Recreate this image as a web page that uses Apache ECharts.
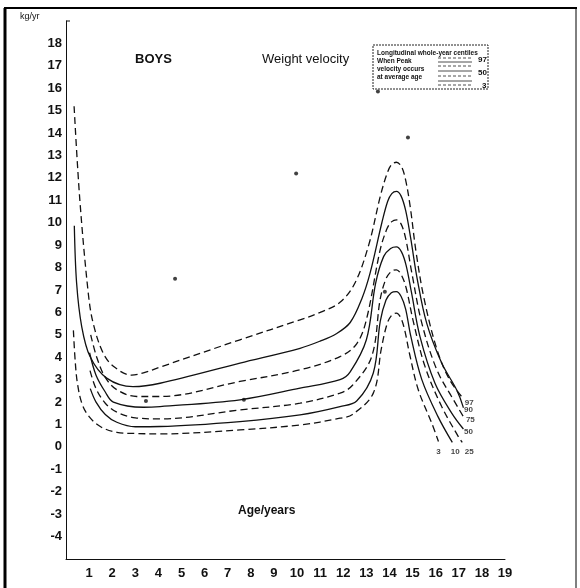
<!DOCTYPE html>
<html>
<head>
<meta charset="utf-8">
<script src="https://cdn.jsdelivr.net/npm/echarts@6/dist/echarts.min.js"></script>
<style>
  html, body { margin: 0; padding: 0; background: #fff; }
  #chart { width: 580px; height: 588px; }
</style>
</head>
<body>
<div id="chart"></div>
<script>
// centile curves, [age, kg/yr]
var c97 = [[0.35,15.2],[0.6,11.0],[0.97,6.8],[1.18,5.5],[1.6,4.2],[2.05,3.6],[2.84,3.2],[3.35,3.3],[4.07,3.56],[7.53,4.78],[10.13,5.67],[11.0,6.0],[11.86,6.45],[12.5,7.3],[13.1,9.0],[13.6,11.17],[13.88,12.15],[14.08,12.58],[14.3,12.7],[14.52,12.5],[14.7,11.9],[14.9,10.7],[15.15,8.7],[15.5,6.6],[16.06,4.33],[16.6,3.0],[17.2,2.15]];
var c90 = [[0.36,9.87],[0.46,7.3],[0.68,5.37],[1.04,4.03],[1.76,3.07],[2.9,2.69],[4.07,2.84],[7.53,3.74],[10.13,4.4],[11.0,4.72],[11.7,5.05],[12.3,5.55],[12.8,6.6],[13.16,7.75],[13.67,10.0],[13.92,10.95],[14.1,11.3],[14.3,11.4],[14.5,11.2],[14.7,10.55],[14.92,9.3],[15.2,7.5],[15.61,5.52],[16.26,3.74],[16.91,2.54],[17.2,1.75]];
var c75 = [[1.07,5.0],[1.33,4.0],[1.7,3.1],[2.2,2.55],[3.06,2.25],[4.07,2.25],[7.53,2.92],[10.13,3.44],[11.86,4.03],[12.58,4.6],[13.0,5.67],[13.6,8.8],[13.9,9.75],[14.1,10.05],[14.3,10.13],[14.5,9.95],[14.7,9.3],[14.97,7.75],[15.4,5.52],[16.05,3.44],[16.77,2.1],[17.2,1.35]];
var c50 = [[1.02,4.2],[1.3,3.2],[1.7,2.45],[2.05,2.0],[3.35,1.77],[4.07,1.8],[7.53,2.1],[10.13,2.62],[11.86,3.0],[12.3,3.35],[13.0,4.78],[13.4,7.3],[13.75,8.5],[14.05,8.85],[14.3,8.92],[14.52,8.7],[14.72,8.1],[14.95,6.9],[15.32,4.92],[15.97,2.84],[16.7,1.5],[17.2,0.8]];
var c25 = [[1.04,3.4],[1.3,2.6],[1.7,1.95],[2.2,1.55],[3.0,1.3],[4.07,1.25],[7.53,1.65],[10.13,1.95],[11.86,2.4],[12.4,2.75],[13.23,4.03],[13.6,6.6],[13.85,7.5],[14.08,7.83],[14.3,7.9],[14.5,7.7],[14.72,7.1],[15.03,5.6],[15.54,3.58],[16.26,1.8],[16.98,0.46],[17.15,0.2]];
var c10 = [[1.05,2.6],[1.3,2.0],[1.7,1.45],[2.2,1.1],[3.0,0.9],[4.07,0.91],[7.53,1.13],[10.13,1.43],[11.86,1.8],[12.58,2.05],[13.3,3.3],[13.6,5.6],[13.85,6.55],[14.08,6.88],[14.3,6.93],[14.5,6.72],[14.7,6.15],[14.92,4.95],[15.4,3.0],[16.1,1.35],[16.72,0.2]];
var c3 = [[0.32,5.2],[0.4,3.8],[0.5,2.8],[0.7,1.9],[1.0,1.35],[1.5,0.9],[2.2,0.65],[3.0,0.6],[4.07,0.58],[7.53,0.76],[10.13,0.98],[11.86,1.28],[12.4,1.45],[13.3,2.4],[13.65,4.4],[13.9,5.5],[14.1,5.88],[14.3,5.97],[14.48,5.78],[14.65,5.25],[14.88,4.1],[15.25,2.54],[15.83,1.06],[16.12,0.24]];
var marks = [[4.72,7.5],[9.96,12.2],[7.7,2.1],[3.46,2.05],[13.8,6.92],[14.8,13.8],[13.5,15.85]];

var xTicks = [1,2,3,4,5,6,7,8,9,10,11,12,13,14,15,16,17,18,19];
var yTicks = [-4,-3,-2,-1,0,1,2,3,4,5,6,7,8,9,10,11,12,13,14,15,16,17,18];

// end labels: [age, kg/yr, text]
var endLabels = [[17.45,1.95,'97'],[17.42,1.65,'90'],[17.5,1.2,'75'],[17.42,0.67,'50'],[16.12,-0.2,'3'],[16.85,-0.2,'10'],[17.45,-0.2,'25']];

var FONT = 'Liberation Sans, Arial, sans-serif';
var chart = echarts.init(document.getElementById('chart'));

function curve(data, dashed) {
  return {
    type: 'line',
    data: data,
    smooth: 0.35,
    symbol: 'none',
    silent: true,
    lineStyle: { color: '#111', width: 1.3, type: dashed ? [7, 4] : 'solid' }
  };
}

var series = [
  curve(c97, true), curve(c90, false), curve(c75, true), curve(c50, false),
  curve(c25, true), curve(c10, false), curve(c3, true),
  {
    type: 'scatter', data: marks, symbolSize: 4, silent: true,
    itemStyle: { color: '#111' }
  },
  {
    type: 'scatter', data: endLabels, symbolSize: 0, silent: true,
    label: {
      show: true, position: 'inside', color: '#111', fontFamily: FONT,
      fontSize: 8, fontWeight: 'bold',
      formatter: function (p) { return p.data[2]; }
    }
  }
];

// legend sample lines inside the key box
var keyLines = [];
[58, 62, 66, 71, 76, 81, 85].forEach(function (y, i) {
  keyLines.push({
    type: 'line', shape: { x1: 438, y1: y, x2: 472, y2: y },
    style: { stroke: '#222', lineWidth: 0.8, lineDash: i % 2 ? null : [3, 2] }
  });
});

chart.setOption({
  animation: false,
  grid: { left: 66, right: 75, top: 21, bottom: 29 },
  xAxis: {
    type: 'value', min: 0, max: 19, interval: 1,
    axisLine: { onZero: false, lineStyle: { color: '#111', width: 1 } },
    axisTick: { show: false },
    splitLine: { show: false },
    axisLabel: {
      margin: 8, color: '#111', fontFamily: FONT, fontSize: 13, fontWeight: 'bold',
      formatter: function (v) { return xTicks.indexOf(v) >= 0 ? String(v) : ''; }
    }
  },
  yAxis: {
    type: 'value', min: -5, max: 19, interval: 1,
    axisLine: { show: true, onZero: false, lineStyle: { color: '#111', width: 1 } },
    axisTick: { show: false },
    splitLine: { show: false },
    axisLabel: {
      margin: 4, color: '#111', fontFamily: FONT, fontSize: 13, fontWeight: 'bold',
      formatter: function (v) { return yTicks.indexOf(v) >= 0 ? String(v) : ''; }
    }
  },
  graphic: [
    { type: 'line', shape: { x1: 5, y1: 8, x2: 5, y2: 588 }, style: { stroke: '#000', lineWidth: 3 } },
    { type: 'line', shape: { x1: 4, y1: 8, x2: 577, y2: 8 }, style: { stroke: '#000', lineWidth: 2 } },
    { type: 'line', shape: { x1: 576, y1: 8, x2: 576, y2: 588 }, style: { stroke: '#000', lineWidth: 1 } },
    { type: 'line', shape: { x1: 66, y1: 21, x2: 70, y2: 21 }, style: { stroke: '#111', lineWidth: 1 } },
    { type: 'text', left: 20, top: 12, style: { text: 'kg/yr', font: '9px ' + FONT, fill: '#111' } },
    { type: 'text', left: 135, top: 53, style: { text: 'BOYS', font: 'bold 13px ' + FONT, fill: '#111' } },
    { type: 'text', left: 262, top: 53, style: { text: 'Weight velocity', font: '13px ' + FONT, fill: '#111' } },
    { type: 'text', left: 238, top: 505, style: { text: 'Age/years', font: 'bold 12px ' + FONT, fill: '#111' } },
    {
      type: 'rect', shape: { x: 373, y: 45, width: 115, height: 44 },
      style: { fill: 'none', stroke: '#222', lineWidth: 1, lineDash: [2, 1] }
    },
    { type: 'text', left: 377, top: 50, style: { text: 'Longitudinal whole-year centiles', font: 'bold 6.5px ' + FONT, fill: '#111' } },
    { type: 'text', left: 377, top: 58, style: { text: 'When Peak', font: 'bold 6.5px ' + FONT, fill: '#111' } },
    { type: 'text', left: 377, top: 66, style: { text: 'velocity occurs', font: 'bold 6.5px ' + FONT, fill: '#111' } },
    { type: 'text', left: 377, top: 74, style: { text: 'at average age', font: 'bold 6.5px ' + FONT, fill: '#111' } },
    { type: 'text', left: 478, top: 56, style: { text: '97', font: 'bold 8px ' + FONT, fill: '#111' } },
    { type: 'text', left: 478, top: 69, style: { text: '50', font: 'bold 8px ' + FONT, fill: '#111' } },
    { type: 'text', left: 482, top: 82, style: { text: '3', font: 'bold 8px ' + FONT, fill: '#111' } }
  ].concat(keyLines),
  series: series
});
</script>
</body>
</html>
